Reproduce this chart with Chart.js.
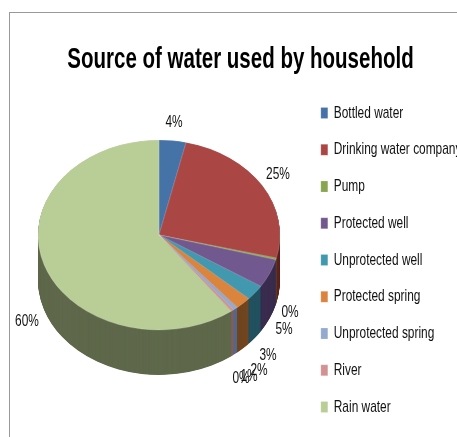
<!DOCTYPE html>
<html>
<head>
<meta charset="utf-8">
<title>Source of water used by household</title>
<script src="https://cdn.jsdelivr.net/npm/chart.js@4"></script>
<style>
  html, body { margin: 0; padding: 0; background: #fff; overflow: hidden; }
  #frame { position: absolute; left: 9px; top: 12px; width: 448px; height: 425px; border-left: 1px solid #999; border-top: 1px solid #999; box-sizing: border-box; }
  #myChart { position: absolute; left: 0; top: 0; }
</style>
</head>
<body>
<div id="frame"></div>
<canvas id="myChart" width="457" height="437"></canvas>
<script>
const categories = ['Bottled water', 'Drinking water company', 'Pump', 'Protected well', 'Unprotected well', 'Protected spring', 'Unprotected spring', 'River', 'Rain water']
const shares = [3.6, 25.3, 0.3, 4.9, 2.6, 2.1, 0.6, 0.4, 60.2]
const topColors = ['#4572a7', '#aa4643', '#89a54e', '#71588f', '#4198af', '#db843d', '#93a9cf', '#d19392', '#b9cd96']
const sideColors = ['#2a4464', '#5e211f', '#4e5f2b', '#3a2c4e', '#21505e', '#70451f', '#55688a', '#80605f', '#5f684b']
// where Excel left the percent labels (centre of the text)
const labelX = [174, 278, 290, 284, 268, 259, 249, 241, 27]
const labelY = [122, 174, 312, 329, 355, 370, 376, 378, 321]

// the flattened pie: centre, radii and rim height
const pieX = 159
const pieY = 235
const radiusX = 121
const radiusY = 95
const rim = 45

// the original text is a squeezed Calibri, so everything gets pressed sideways
const legendSqueeze = 0.7
const titleSqueeze = 0.8
const legendX = 321
const titleX = 240.5

const FONT = '"Liberation Sans", sans-serif'

const squeezed = (box, x, k, clips) => {
  const draw = box.draw
  box.draw = function (...args) {
    const ctx = this.ctx
    const right = this.right
    // the legend clips to its box, so stretch it as far as the squeeze pulls it in
    if (clips) this.right = x + (right - x) / k
    ctx.save()
    ctx.translate(x, 0)
    ctx.scale(k, 1)
    ctx.translate(-x, 0)
    draw.apply(this, args)
    ctx.restore()
    this.right = right
  }
}

const drawSlice = (ctx, arc, y, color) => {
  const saved = arc.options
  ctx.save()
  ctx.translate(pieX, pieY + y)
  ctx.scale(radiusX / arc.outerRadius, radiusY / arc.outerRadius)
  ctx.translate(-arc.x, -arc.y)
  if (color) arc.options = Object.assign({}, saved, { backgroundColor: color, borderWidth: 0 })
  arc.draw(ctx)
  arc.options = saved
  ctx.restore()
}

const tiltedPie = {
  id: 'tiltedPie',
  beforeDraw(chart) {
    if (chart.$squeezed) return
    chart.$squeezed = true
    squeezed(chart.legend, legendX, legendSqueeze, true)
    squeezed(chart.titleBlock, titleX, titleSqueeze, false)
  },
  beforeDatasetsDraw(chart) {
    const ctx = chart.ctx
    const arcs = chart.getDatasetMeta(0).data
    for (let y = rim; y > 0; y -= 0.5) {
      arcs.forEach((arc, i) => drawSlice(ctx, arc, y, sideColors[i]))
    }
    arcs.forEach(arc => drawSlice(ctx, arc, 0))
    return false
  },
  afterDraw(chart) {
    const ctx = chart.ctx
    ctx.save()
    ctx.font = '17px ' + FONT
    ctx.fillStyle = '#111'
    ctx.textAlign = 'center'
    ctx.textBaseline = 'middle'
    shares.forEach((v, i) => {
      ctx.save()
      ctx.translate(labelX[i], labelY[i])
      ctx.scale(legendSqueeze, 1)
      ctx.fillText(Math.round(v) + '%', 0, 0)
      ctx.restore()
    })
    ctx.restore()
  }
}

new Chart(document.getElementById('myChart'), {
  type: 'pie',
  data: {
    labels: categories,
    datasets: [{
      data: shares,
      backgroundColor: topColors,
      borderColor: 'rgba(255,255,255,0.45)',
      borderWidth: 0.5
    }]
  },
  options: {
    responsive: false,
    animation: false,
    layout: { padding: { left: 24 } },
    plugins: {
      tooltip: { enabled: false },
      title: {
        display: true,
        text: 'Source of water used by household',
        color: '#000',
        font: { family: '"Liberation Sans Narrow", ' + FONT, size: 29, weight: 'bold' },
        padding: { top: 43, bottom: 7 }
      },
      legend: {
        position: 'right',
        align: 'start',
        fullSize: false,
        maxWidth: 156,
        labels: {
          color: '#111',
          font: { family: FONT, size: 17 },
          boxWidth: 10,
          boxHeight: 11,
          padding: 19.75
        }
      }
    }
  },
  plugins: [tiltedPie]
})
</script>
</body>
</html>
